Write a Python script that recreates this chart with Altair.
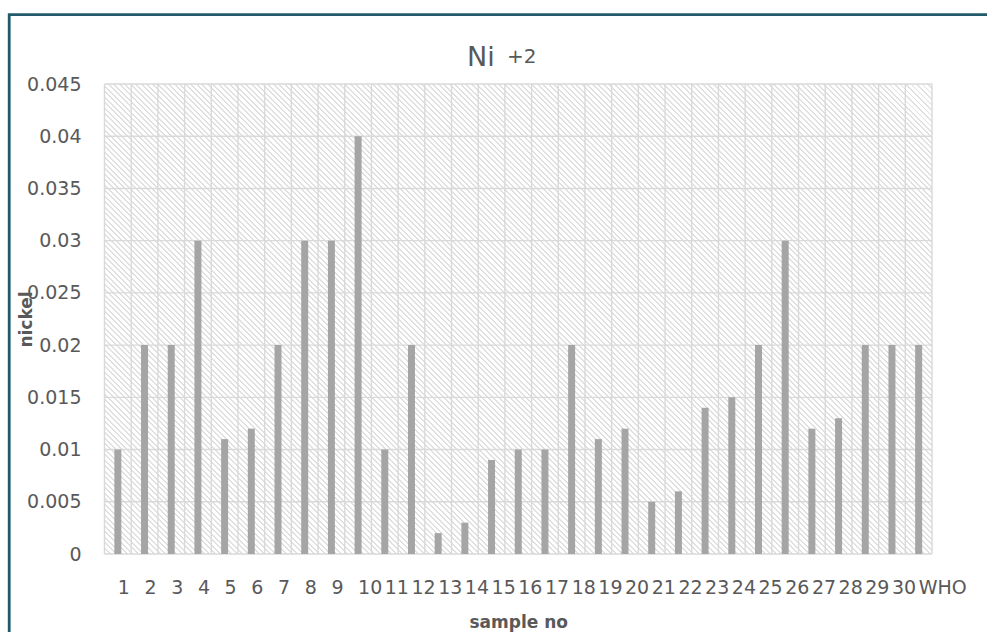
import altair as alt
import pandas as pd

samples = [str(i) for i in range(1, 31)] + ["WHO"]
nickel = [0.01, 0.02, 0.02, 0.03, 0.011, 0.012, 0.02, 0.03, 0.03, 0.04,
          0.01, 0.02, 0.002, 0.003, 0.009, 0.01, 0.01, 0.02, 0.011, 0.012,
          0.005, 0.006, 0.014, 0.015, 0.02, 0.03, 0.012, 0.013, 0.02, 0.02,
          0.02]
y_ticks = [0, 0.005, 0.01, 0.015, 0.02, 0.025, 0.03, 0.035, 0.04, 0.045]

df = pd.DataFrame({"sample": samples, "nickel": nickel})
ticks_df = pd.DataFrame({"nickel": y_ticks})

W, H = 827.5, 470
FONT = "DejaVu Sans"
TXT = "#595959"
GRID = "#d9d9d9"

# diagonal hatch as a striped linear gradient for the plot background
a = H / W
s = (1 + a) / (1 + a * a)
period_px = 5.5
N = int(round(W * (1 + a) / period_px))
frac = 0.36
stops = []
for k in range(N):
    o0 = k / N
    o1 = (k + frac) / N
    o2 = (k + 1) / N
    stops += [
        {"offset": round(o0, 6), "color": "#e0e0e0"},
        {"offset": round(o1, 6), "color": "#e0e0e0"},
        {"offset": round(o1, 6), "color": "#ffffff"},
        {"offset": round(o2, 6), "color": "#ffffff"},
    ]
grad = alt.LinearGradient(
    gradient="linear", x1=0, y1=1, x2=round(s, 5), y2=round(1 - s * a, 5),
    stops=[alt.GradientStop(offset=st["offset"], color=st["color"]) for st in stops])

x_axis = alt.Axis(title="sample no", labelAngle=0, labelAlign="left",
                  labelBaseline="alphabetic", labelPadding=39,
                  labelFont=FONT, labelFontSize=19, labelColor=TXT,
                  labelOverlap=False, labelBound=False,
                  labelFlush=False, ticks=False, tickSize=0,
                  domain=False, grid=False,
                  titleFont=FONT, titleFontSize=17,
                  titleFontWeight="bold", titleColor=TXT,
                  titleBaseline="alphabetic", titleY=73)
x_scale = alt.Scale(paddingInner=0, paddingOuter=0)
y_axis = alt.Axis(title="nickel", values=y_ticks, format="~g",
                  labelFont=FONT, labelFontSize=19, labelColor=TXT,
                  labelPadding=23.5, ticks=False, tickSize=0,
                  domain=False, grid=False,
                  titleFont=FONT, titleFontSize=17,
                  titleFontWeight="bold", titleColor=TXT,
                  titleX=-78, titleY=H / 2, titleAngle=270,
                  titleBaseline="middle", titleAlign="center")
y_scale = alt.Scale(domain=[0, 0.045], nice=False, zero=True)

one = alt.Data(values=[{"k": 0}])

hatch = alt.Chart(one).mark_rect(fill=grad, strokeWidth=0).encode(
    x=alt.value(0), x2=alt.value("width"),
    y=alt.value(0), y2=alt.value("height"))

hgrid = alt.Chart(ticks_df).mark_rule(color=GRID, strokeWidth=1.4).encode(
    y=alt.Y("nickel:Q", scale=y_scale, axis=y_axis))

vgrid = alt.Chart(df).mark_rule(color=GRID, strokeWidth=1.4).encode(
    x=alt.X("sample:N", sort=samples, bandPosition=0, scale=x_scale,
            axis=x_axis))

vgrid_end = alt.Chart(one).mark_rule(color=GRID, strokeWidth=1.4).encode(
    x=alt.value("width"), y=alt.value(0), y2=alt.value("height"))

bars = alt.Chart(df).mark_bar(size=7, color="#a5a5a5").encode(
    x=alt.X("sample:N", sort=samples, scale=x_scale, axis=x_axis),
    y=alt.Y("nickel:Q", scale=y_scale, axis=y_axis))

frame = alt.Chart(one).mark_rect(filled=False, stroke="#225a6c",
                                 strokeWidth=2.8).encode(
    x=alt.value(-95.3), x2=alt.value(1200),
    y=alt.value(-69.3), y2=alt.value(900))

ni = alt.Chart(one).mark_text(text="Ni", font=FONT, fontSize=27, color=TXT,
                              align="left", baseline="alphabetic").encode(
    x=alt.value(467 - 104.5), y=alt.value(65.7 - 84))

sup = alt.Chart(one).mark_text(text="+2", font=FONT, fontSize=20, color=TXT,
                               align="left", baseline="alphabetic").encode(
    x=alt.value(507 - 104.5), y=alt.value(62.5 - 84))

chart = alt.layer(hatch, hgrid, vgrid, vgrid_end, bars, frame, ni, sup).properties(
    width=W, height=H,
    autosize=alt.AutoSizeParams(type="none"),
    padding={"left": 104.5, "top": 84, "right": 987 - 104.5 - W,
             "bottom": 632 - 84 - H},
    background="white",
).configure_view(strokeWidth=0)

chart.save("out.html", embed_options={"renderer": "svg", "actions": False})
